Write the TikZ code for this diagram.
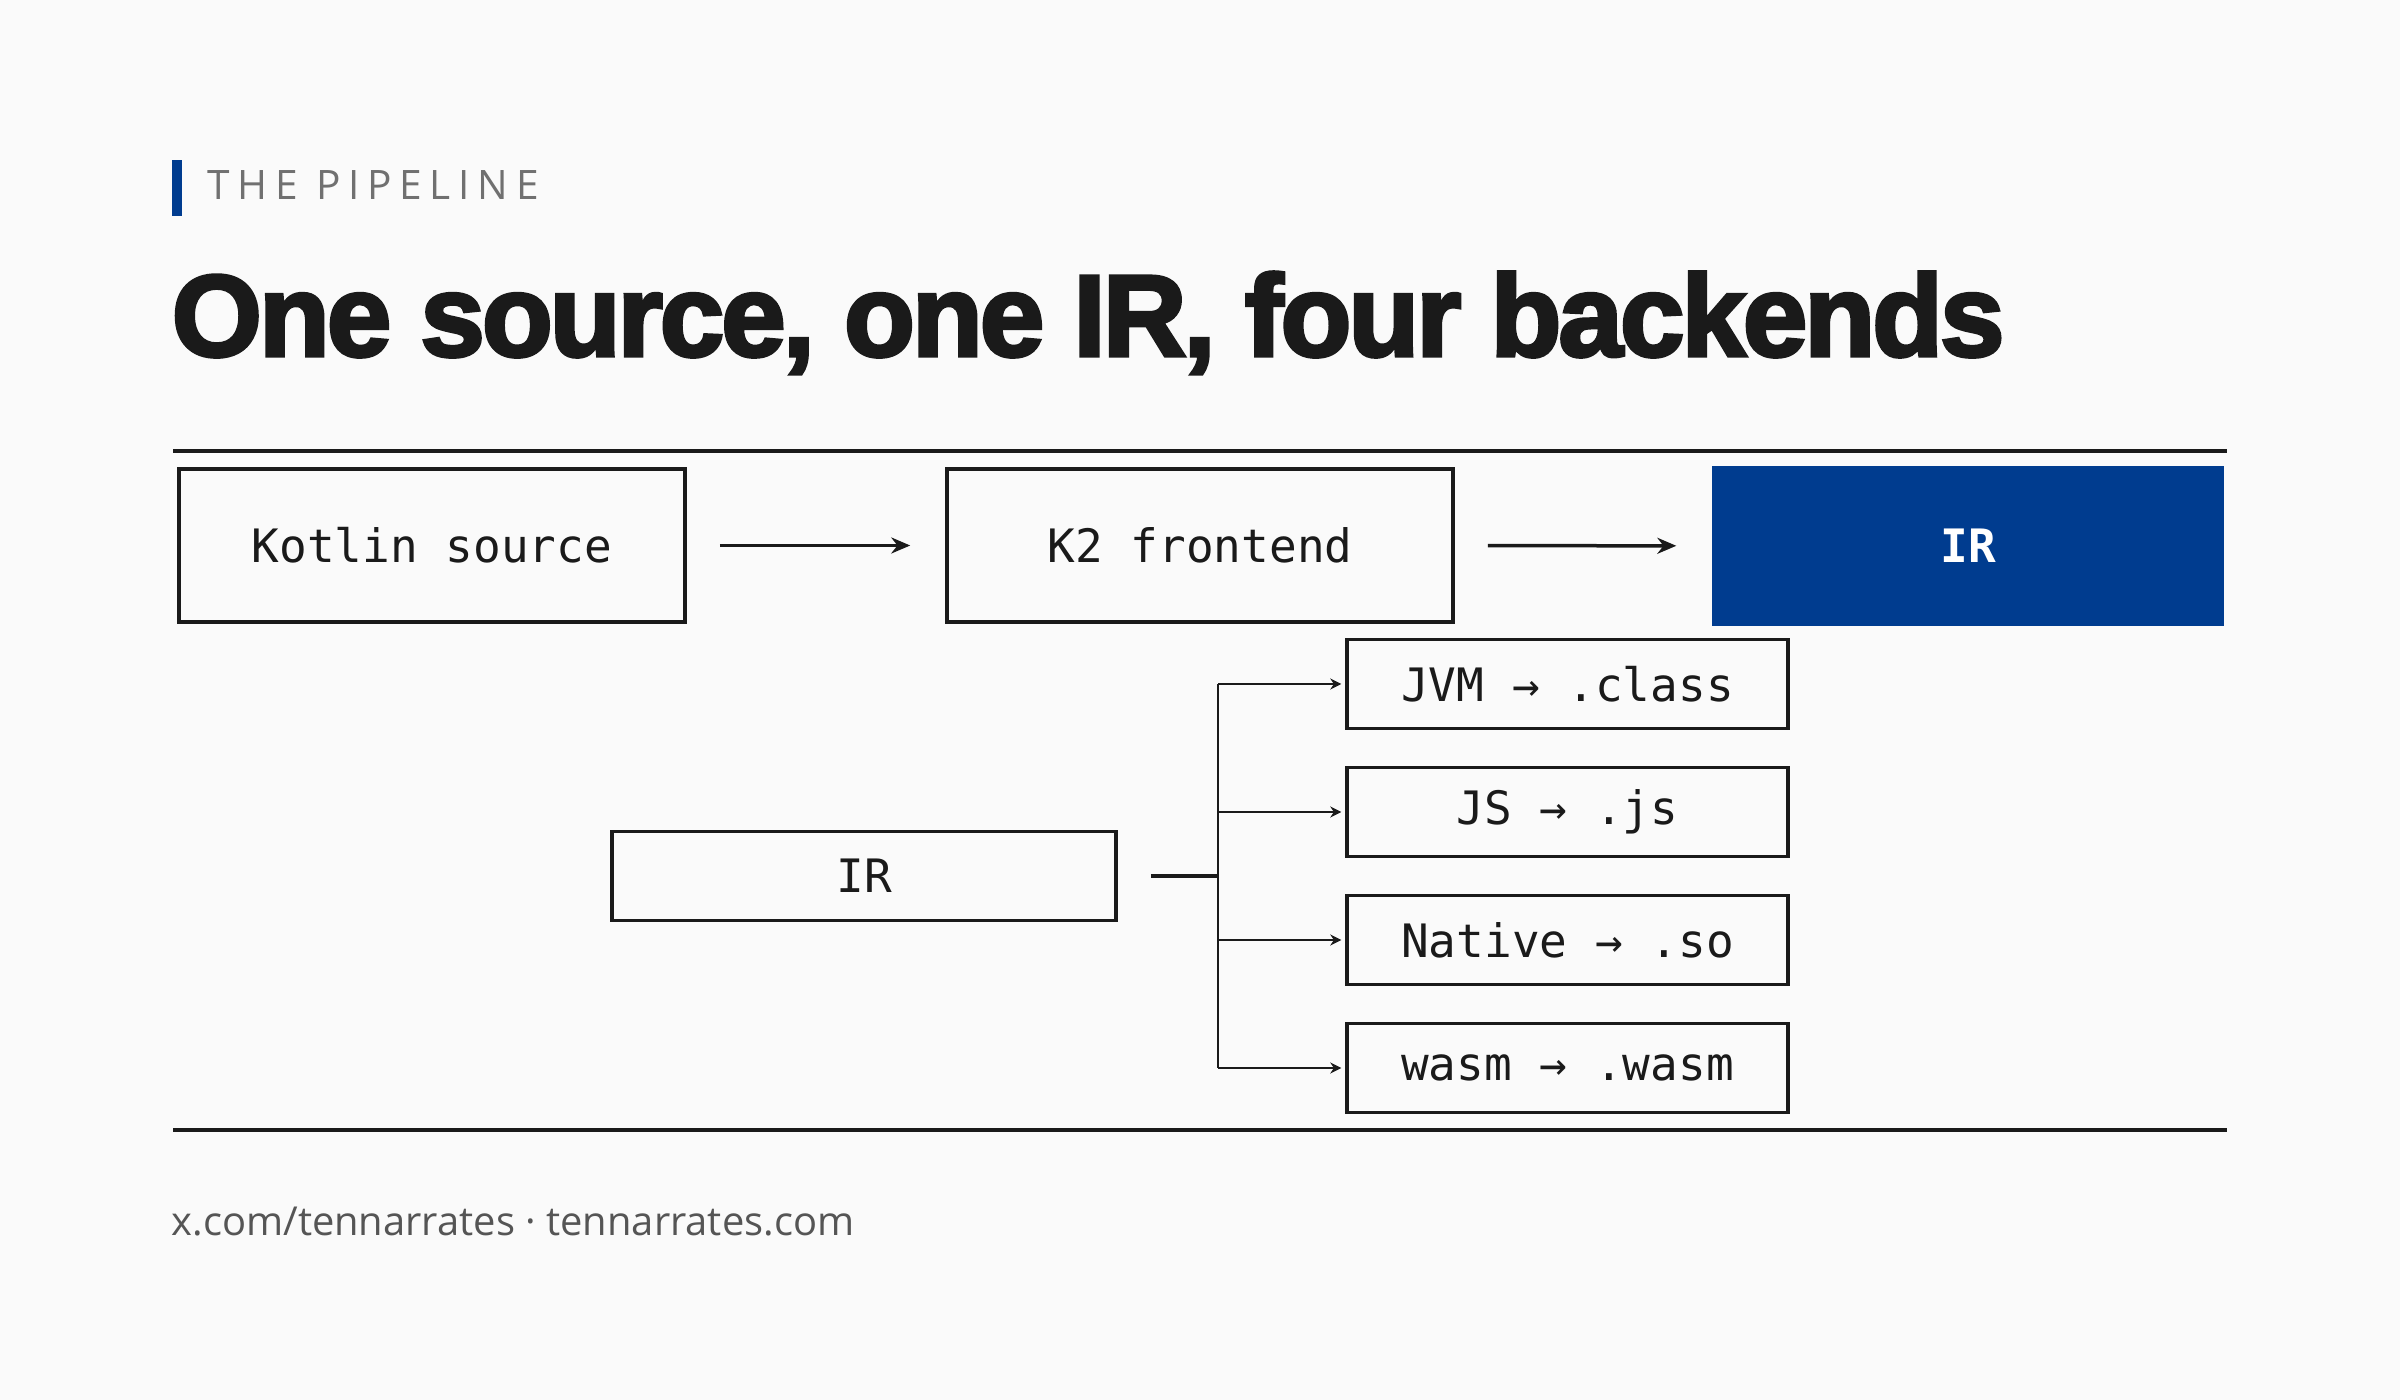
\documentclass[tikz,border=0pt]{standalone}
\usepackage{fontspec}
\setmainfont{Open Sans}
\setmonofont{DejaVu Sans Mono}
\newfontfamily\titlefont[LetterSpace=-2.6,BoldFeatures={FakeBold=3}]{Liberation Sans}
\newfontfamily\tagfont[LetterSpace=19]{Open Sans}
\usetikzlibrary{arrows.meta}

\definecolor{bgpage}{HTML}{FAFAFA}
\definecolor{ink}{HTML}{1A1A1A}
\definecolor{irblue}{HTML}{003C8F}
\definecolor{taggray}{HTML}{707070}
\definecolor{footgray}{HTML}{555555}

\tikzset{
  stage/.style={draw=ink, line width=0.35mm, fill=bgpage, text=ink,
    font=\ttfamily\fontsize{13.1}{15}\selectfont},
  bigstage/.style={stage, minimum width=50.6mm, minimum height=15.3mm},
  smallstage/.style={stage, minimum height=8.9mm},
  flow/.style={draw=ink, line width=0.35mm, -{Stealth[length=1.9mm,width=1.6mm]},
    shorten <=3.3mm, shorten >=3.5mm},
  branch/.style={draw=ink, line width=0.22mm, -{Stealth[length=1.1mm,width=1.1mm]},
    shorten >=0.4mm},
  trunk/.style={draw=ink, line width=0.28mm},
  rule/.style={draw=ink, line width=0.4mm}
}

\begin{document}
\begin{tikzpicture}[x=0.1mm, y=-0.1mm, every node/.style={inner sep=0pt}]
  \useasboundingbox (0,0) rectangle (2400,1400);
  \fill[bgpage] (0,0) rectangle (2400,1400);

  % Intestazione
  \fill[irblue] (172,160) rectangle (182,216);
  \node (tag) at (207,200) [anchor=base west, text=taggray,
    font=\tagfont\fontsize{11.55}{14}\selectfont] {THE PIPELINE};
  \node (title) at (171,356) [anchor=base west, text=ink,
    font=\titlefont\bfseries\fontsize{33}{40}\selectfont] {One source, one IR, four backends};
  \draw[rule] (173,451) -- (2227,451);

  % Pipeline superiore
  \node (src) at (432,545.5) [bigstage] {Kotlin source};
  \node (fe) at (1200,545.5) [bigstage] {K2 frontend};
  \node (ir) at (1968,546) [minimum width=51.2mm, minimum height=16.0mm, fill=irblue,
    text=white, font=\ttfamily\bfseries\fontsize{13.1}{15}\selectfont] {IR};
  \draw[flow] (src) -- (fe);
  \draw[flow] (fe) -- (ir);

  % Backend
  \node (irb) at (864,876) [smallstage, minimum width=50.4mm] {IR};
  \node (jvm) at (1567.5,684) [smallstage, minimum width=44.1mm] {JVM → .class};
  \node (js) at (1567.5,812) [smallstage, minimum width=44.1mm] {JS → .js};
  \node (native) at (1567.5,940) [smallstage, minimum width=44.1mm] {Native → .so};
  \node (wasm) at (1567.5,1068) [smallstage, minimum width=44.1mm] {wasm → .wasm};
  \coordinate (split) at (1218,876);

  % Collegamenti
  \draw[trunk, line width=0.35mm, shorten <=3.3mm] (irb) -- (split);
  \draw[trunk] (split |- jvm.west) -- (split |- wasm.west);
  \draw[branch] (split |- jvm.west) -- (jvm.west);
  \draw[branch] (split |- js.west) -- (js.west);
  \draw[branch] (split |- native.west) -- (native.west);
  \draw[branch] (split |- wasm.west) -- (wasm.west);

  % Piede
  \draw[rule] (173,1130) -- (2227,1130);
  \node (foot) at (171,1235) [anchor=base west, text=footgray,
    font=\fontsize{11.35}{14}\selectfont] {x.com/tennarrates · tennarrates.com};
\end{tikzpicture}
\end{document}
